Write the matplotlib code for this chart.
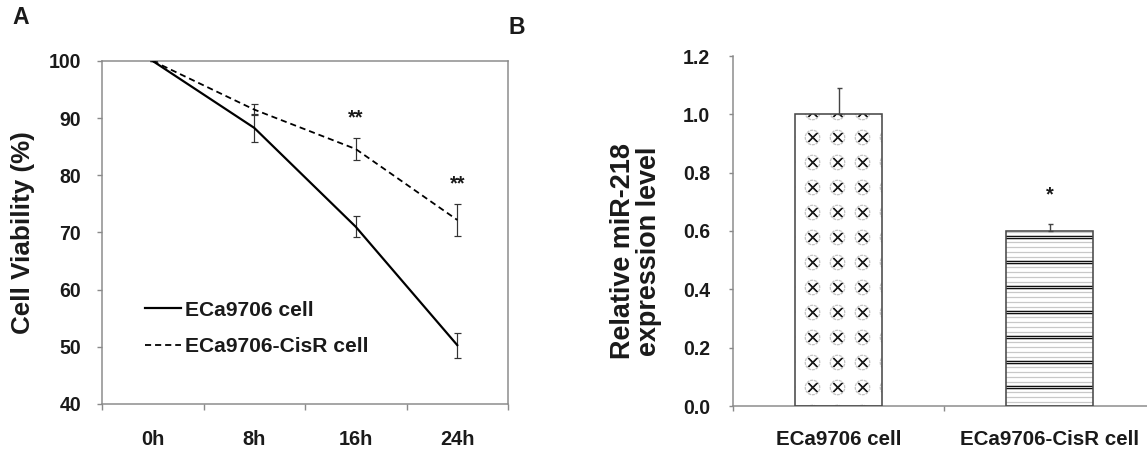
import warnings
warnings.filterwarnings('ignore')
import numpy as np
import matplotlib
matplotlib.use('Agg')
import matplotlib.pyplot as plt
import matplotlib.hatch as mhatch
from matplotlib.path import Path
from matplotlib.lines import Line2D

# ---------------- data ----------------
time_labels = ['0h', '8h', '16h', '24h']
parental_viability = [100.0, 88.3, 71.0, 50.3]
parental_err = [0.0, 2.4, 1.8, 2.2]
cisr_viability = [100.0, 91.5, 84.6, 72.2]
cisr_err = [0.0, 1.0, 2.0, 2.8]
series_names = ['ECa9706 cell', 'ECa9706-CisR cell']
sig_a_labels = ['', '', '**', '**']
sig_a_y = [None, None, 90.0, 78.5]

cell_lines = ['ECa9706 cell', 'ECa9706-CisR cell']
mir218_level = [1.0, 0.60]
mir218_err = [0.09, 0.025]
sig_b_labels = ['', '*']
sig_b_y = [None, 0.723]

# ---------------- custom hatches ----------------
class _GridHatch(mhatch.HatchPatternBase):
    char = None
    segs = np.zeros((0, 2, 2))

    def __init__(self, hatch, density):
        self.n = hatch.count(self.char) * density
        self.num_vertices = self.n * self.n * len(self.segs) * 2

    def set_vertices_and_codes(self, vertices, codes):
        n = self.n
        centers = (np.arange(n) + 0.5) / n
        cx, cy = np.meshgrid(centers, centers)
        c = np.stack([cx.ravel(), cy.ravel()], axis=1)
        seg = np.asarray(self.segs) / n
        pts = seg[None, :, :, :] + c[:, None, None, :]
        vertices[:] = pts.reshape(-1, 2)
        codes[:] = np.tile([Path.MOVETO, Path.LINETO], n * n * len(self.segs))


class XMarkHatch(_GridHatch):
    char = 'k'
    a = 0.16
    d = 0.025
    segs = np.array([[(-a, -a), (a, a)], [(-a, a), (a, -a)],
                     [(-a + d, -a), (a + d, a)], [(-a + d, a), (a + d, -a)]])


def _ring_segs(r=0.29, k=12, span=14):
    out = []
    for i in range(k):
        t0 = np.deg2rad(i * 360 / k)
        t1 = np.deg2rad(i * 360 / k + span)
        out.append([(r * np.cos(t0), r * np.sin(t0)), (r * np.cos(t1), r * np.sin(t1))])
    return np.array(out)


class RingHatch(_GridHatch):
    char = 'r'
    segs = _ring_segs()


class BandHatch(mhatch.HatchPatternBase):
    """Pairs of close horizontal lines spanning the whole tile."""
    offsets = (-0.045, 0.045)

    def __init__(self, hatch, density):
        self.n = hatch.count('b') * density
        self.num_vertices = self.n * len(self.offsets) * 2

    def set_vertices_and_codes(self, vertices, codes):
        n = self.n
        pts = []
        for j in range(n):
            for off in self.offsets:
                yy = (j + 0.5 + off) / n
                pts.append((0.0, yy))
                pts.append((1.0, yy))
        vertices[:] = np.array(pts)
        codes[:] = np.tile([Path.MOVETO, Path.LINETO], n * len(self.offsets))


mhatch._hatch_types.extend([XMarkHatch, RingHatch, BandHatch])

# ---------------- figure ----------------
DPI = 150
W, H = 1147, 452
PT = 72.0 / DPI  # points per pixel

plt.rcParams['font.family'] = ['Liberation Sans', 'DejaVu Sans']
plt.rcParams['font.weight'] = 'bold'
plt.rcParams['hatch.linewidth'] = 1.25 * PT

fig = plt.figure(figsize=(W / DPI, H / DPI), dpi=DPI)


def fx(px):
    return px / W


def fy(py):
    return 1 - py / H


spine_col = '#8a8a8a'
txt_col = '#1a1a1a'

# ---------------- panel A ----------------
axA = fig.add_axes([fx(102), fy(404), fx(508) - fx(102), fy(61) - fy(404)])
x = np.arange(len(time_labels))
solid_style = dict(color='black', lw=2.2 * PT)
dash_style = dict(color='black', lw=1.8 * PT, ls=(0, (3.4, 2.2)))
axA.errorbar(x, parental_viability, yerr=parental_err, ecolor='#333333',
             elinewidth=1.2 * PT, capsize=3.5 * PT, capthick=1.2 * PT, zorder=3,
             **solid_style)
axA.errorbar(x, cisr_viability, yerr=cisr_err, ecolor='#333333', elinewidth=1.2 * PT,
             capsize=3.5 * PT, capthick=1.2 * PT, zorder=3, **dash_style)
for xi, lab, yy in zip(x, sig_a_labels, sig_a_y):
    if lab:
        axA.text(xi, yy, lab, ha='center', va='center', fontsize=20 * PT,
                 color=txt_col, fontweight='bold')

axA.set_xlim(-0.5, len(time_labels) - 0.5)
axA.set_ylim(40, 100)
axA.set_yticks(np.arange(40, 101, 10))
axA.set_xticks(np.arange(-0.5, len(time_labels), 1.0))
axA.set_xticklabels([])
axA.set_xticks(x, minor=True)
axA.set_xticklabels(time_labels, minor=True)
axA.tick_params(axis='x', which='major', direction='out', length=6 * PT,
                width=1.4 * PT, color=spine_col)
axA.tick_params(axis='x', which='minor', length=0, pad=26 * PT,
                labelsize=20 * PT, labelcolor=txt_col)
axA.tick_params(axis='y', direction='out', length=5 * PT, width=1.4 * PT,
                color=spine_col, pad=16 * PT, labelsize=19.5 * PT, labelcolor=txt_col)
for s in axA.spines.values():
    s.set_color(spine_col)
    s.set_linewidth(1.5 * PT)
axA.set_ylabel('Cell Viability (%)', fontsize=26 * PT, fontweight='bold',
               color=txt_col, labelpad=14 * PT)
handles = [Line2D([], [], **solid_style), Line2D([], [], **dash_style)]
leg = axA.legend(handles, series_names, loc='center left', bbox_to_anchor=(0.105, 0.22),
                 frameon=False, fontsize=21 * PT, handlelength=1.75, handletextpad=0.15,
                 labelspacing=0.85, borderaxespad=0, borderpad=0)
for t in leg.get_texts():
    t.set_color(txt_col)
    t.set_fontweight('bold')

fig.text(fx(21), fy(18), 'A', ha='center', va='center', fontsize=23 * PT,
         fontweight='bold', color=txt_col)

# ---------------- panel B ----------------
axB = fig.add_axes([fx(733), fy(406), fx(1155) - fx(733), fy(56) - fy(406)])
xb = np.arange(len(cell_lines))
bw = 0.41
edge_col = '#4a4a4a'
# bar 1: circled X pattern
axB.bar(xb[0], mir218_level[0], width=bw, color='white', edgecolor='#c4c4c4',
        linewidth=0, hatch='r', zorder=2)
axB.bar(xb[0], mir218_level[0], width=bw, color='none', edgecolor='#1e1e1e',
        linewidth=0, hatch='k', zorder=2)
# bar 2: horizontal stripes
axB.bar(xb[1], mir218_level[1], width=bw, color='white', edgecolor='#c8c8c8',
        linewidth=0, hatch='-----', zorder=2)
axB.bar(xb[1], mir218_level[1], width=bw, color='none', edgecolor='#111111',
        linewidth=0, hatch='b', zorder=2)
axB.bar(xb, mir218_level, width=bw, color='none', edgecolor=edge_col,
        linewidth=1.6 * PT, zorder=3)
axB.errorbar(xb, mir218_level, yerr=[[0] * len(mir218_err), mir218_err], fmt='none',
             ecolor='#444444', elinewidth=1.4 * PT, capsize=2.5 * PT, capthick=1.4 * PT,
             zorder=4)
for xi, lab, yy in zip(xb, sig_b_labels, sig_b_y):
    if lab:
        axB.text(xi, yy, lab, ha='center', va='center', fontsize=20 * PT,
                 color=txt_col, fontweight='bold')

axB.set_xlim(-0.5, len(cell_lines) - 0.5)
axB.set_ylim(0, 1.2)
axB.set_yticks(np.arange(0, 1.21, 0.2))
axB.set_yticklabels([f'{v:.1f}' for v in np.arange(0, 1.21, 0.2)])
axB.set_xticks(np.arange(-0.5, len(cell_lines), 1.0))
axB.set_xticklabels([])
axB.set_xticks(xb, minor=True)
axB.set_xticklabels(cell_lines, minor=True)
axB.tick_params(axis='x', which='major', direction='out', length=5 * PT,
                width=1.4 * PT, color=spine_col)
axB.tick_params(axis='x', which='minor', length=0, pad=24 * PT,
                labelsize=20.5 * PT, labelcolor=txt_col)
axB.tick_params(axis='y', direction='out', length=4 * PT, width=1.4 * PT,
                color=spine_col, pad=19 * PT, labelsize=19.5 * PT, labelcolor=txt_col)
for side in ['top', 'right']:
    axB.spines[side].set_visible(False)
for side in ['left', 'bottom']:
    axB.spines[side].set_color(spine_col)
    axB.spines[side].set_linewidth(1.5 * PT)

fig.text(fx(636), fy(251), 'Relative miR-218\nexpression level', ha='center',
         va='center', rotation=90, fontsize=27 * PT, fontweight='bold',
         color=txt_col, linespacing=0.95)

fig.text(fx(517), fy(27), 'B', ha='center', va='center', fontsize=23 * PT,
         fontweight='bold', color=txt_col)

fig.savefig('out.png', dpi=DPI)
